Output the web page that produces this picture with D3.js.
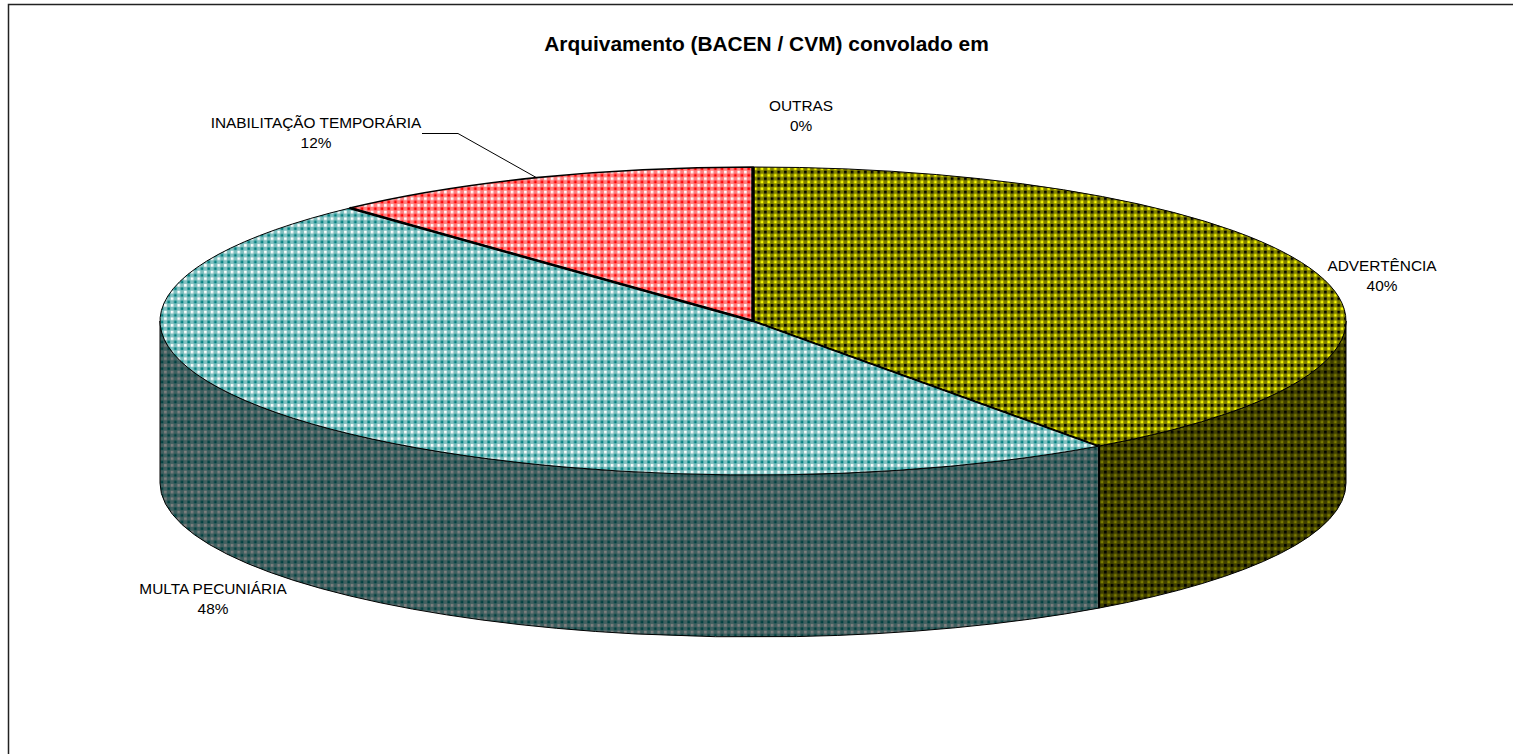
<!DOCTYPE html>
<html><head><meta charset="utf-8">
<script src="https://cdn.jsdelivr.net/npm/d3@7/dist/d3.min.js"></script>
<style>html,body{margin:0;padding:0;background:#fff;overflow:hidden}svg{display:block}
text{font-family:"Liberation Sans",Arial,sans-serif;fill:#000}</style></head>
<body><svg id="c" width="1513" height="754"></svg>
<script>
const titleText = "Arquivamento (BACEN / CVM) convolado em";
const categories = ["ADVERTÊNCIA", "MULTA PECUNIÁRIA", "INABILITAÇÃO TEMPORÁRIA", "OUTRAS"];
const values = [40.1, 48, 11.9, 0];
const percentLabels = ["40%", "48%", "12%", "0%"];

const topColors = {"ADVERTÊNCIA":["#ffff00","#000000"],"MULTA PECUNIÁRIA":["#008080","#ffffff"],"INABILITAÇÃO TEMPORÁRIA":["#ff0000","#ffffff"],"OUTRAS":["#ffffff","#ffffff"]};
const sideColors = {"ADVERTÊNCIA":["#808000","#000000"],"MULTA PECUNIÁRIA":["#004040","#808080"],"INABILITAÇÃO TEMPORÁRIA":["#800000","#808080"],"OUTRAS":["#808080","#808080"]};
const labelPos = {"ADVERTÊNCIA":[1382,270.5],"MULTA PECUNIÁRIA":[213,593.5],"INABILITAÇÃO TEMPORÁRIA":[316,127.5],"OUTRAS":[801,110.5]};
const separatorWidth = {"ADVERTÊNCIA":2,"MULTA PECUNIÁRIA":2.5,"INABILITAÇÃO TEMPORÁRIA":3.5,"OUTRAS":2};
const topStroke = {"ADVERTÊNCIA":1,"MULTA PECUNIÁRIA":1,"INABILITAÇÃO TEMPORÁRIA":1.6,"OUTRAS":1};

const svg = d3.select("#c");
const x = d3.scaleLinear().domain([-1,1]).range([160,1346]);
const y = d3.scaleLinear().domain([1,-1]).range([167,475]);
const depth = 162, rx = (x(1)-x(-1))/2, ry = (y(-1)-y(1))/2;
const px = a => x(Math.sin(a)), py = a => y(Math.cos(a));

// patterns
const defs = svg.append("defs");
const P = 20/3;
function pat(id, c){
  const [fg,bg] = c;
  const mix = d3.interpolateRgb(fg,bg)(0.5);
  const p = defs.append("pattern").attr("id",id).attr("patternUnits","userSpaceOnUse")
    .attr("x",0.3).attr("y",0.3).attr("width",P).attr("height",P);
  p.append("rect").attr("width",P).attr("height",P).attr("fill",mix);
  p.append("rect").attr("x",0.4).attr("y",0.4).attr("width",P*0.4).attr("height",P*0.4).attr("fill",fg);
  p.append("rect").attr("x",P/2+0.4).attr("y",P/2+0.4).attr("width",P*0.4).attr("height",P*0.4).attr("fill",bg);
}
categories.forEach((c,i)=>{pat("t"+i,topColors[c]);pat("s"+i,sideColors[c]);});

// frame
svg.append("path").attr("d",d3.line()([[8.5,754],[8.5,4.5],[1513,4.5]])).attr("fill","none").attr("stroke","#222").attr("stroke-width",1.5);

svg.append("text").attr("x",766.5).attr("y",51).attr("text-anchor","middle")
  .attr("font-weight","bold").attr("font-size",20.9).text(titleText);

const pie = d3.pie().sort(null).value(d=>d).startAngle(0).endAngle(2*Math.PI);
const arcs = pie(values);

// side walls: only the front half (pi/2 .. 3pi/2) is visible
arcs.forEach((d,i)=>{
  const a0 = Math.max(d.startAngle, Math.PI/2), a1 = Math.min(d.endAngle, 3*Math.PI/2);
  if (a1 <= a0) return;
  const large = a1-a0 > Math.PI ? 1 : 0;
  const dpath = `M${px(a0)},${py(a0)}A${rx},${ry} 0 ${large} 1 ${px(a1)},${py(a1)}`+
    `L${px(a1)},${py(a1)+depth}A${rx},${ry} 0 ${large} 0 ${px(a0)},${py(a0)+depth}Z`;
  svg.append("path").attr("d",dpath).attr("fill",`url(#s${i})`).attr("stroke","#000").attr("stroke-width",1);
  if (d.endAngle < 3*Math.PI/2){
    const e = d.endAngle;
    svg.append("line").attr("x1",px(e)).attr("x2",px(e)).attr("y1",py(e)).attr("y2",py(e)+depth)
      .attr("stroke","#000").attr("stroke-width",3);
  }
});

// top slices
arcs.forEach((d,i)=>{
  const a0=d.startAngle,a1=d.endAngle,large=a1-a0>Math.PI?1:0;
  const dpath=`M${x(0)},${y(0)}L${px(a0)},${py(a0)}A${rx},${ry} 0 ${large} 1 ${px(a1)},${py(a1)}Z`;
  svg.append("path").attr("d",dpath).attr("fill",`url(#t${i})`)
    .attr("stroke","#000").attr("stroke-width",topStroke[categories[i]]).attr("stroke-linejoin","round");
});

// separators between slices, drawn above the fills
arcs.forEach((d,i)=>{
  svg.append("line").attr("x1",x(0)).attr("y1",y(0)).attr("x2",px(d.endAngle)).attr("y2",py(d.endAngle))
    .attr("stroke","#000").attr("stroke-width",separatorWidth[categories[i]]);
});

// labels
categories.forEach((c,i)=>{
  const [lx,ly]=labelPos[c];
  const t=svg.append("text").attr("text-anchor","middle").attr("font-size",15.4);
  t.append("tspan").attr("x",lx).attr("y",ly).text(c);
  t.append("tspan").attr("x",lx).attr("y",ly+20.5).text(percentLabels[i]);
});

// leader for INABILITAÇÃO
const lead = arcs[2], mid=(lead.startAngle+lead.endAngle)/2;
svg.append("path").attr("d",d3.line()([[422,133.5],[458,133.5],[px(mid),py(mid)]]))
  .attr("fill","none").attr("stroke","#000").attr("stroke-width",1);
</script></body></html>
